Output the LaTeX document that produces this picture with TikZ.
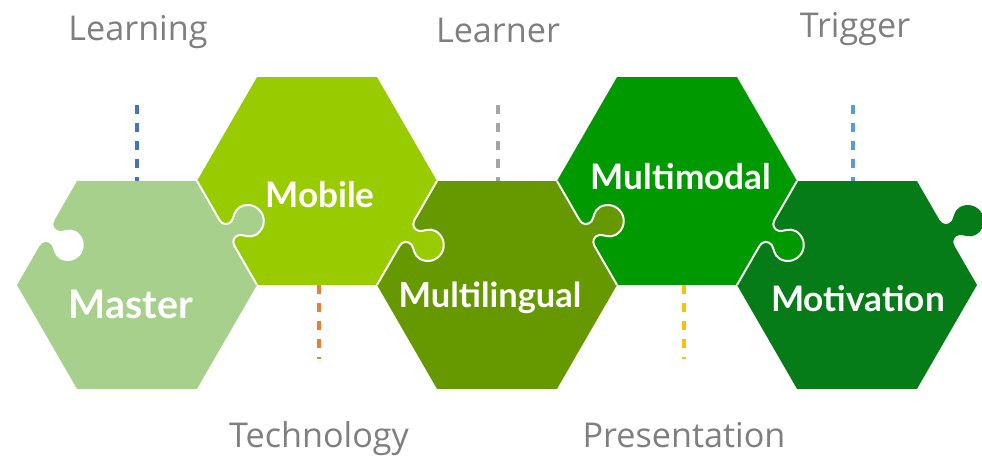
\documentclass[tikz,border=0pt]{standalone}
\usepackage{fontspec}
\setmainfont{Open Sans}
\newfontfamily\hexfont{Lato}
\usepackage{tikz}

\definecolor{masterGreen}{HTML}{A8D08D}
\definecolor{mobileGreen}{HTML}{99CC00}
\definecolor{multiGreen}{HTML}{669900}
\definecolor{modalGreen}{HTML}{009900}
\definecolor{motivGreen}{HTML}{067C18}
\definecolor{labelGray}{HTML}{7F7F7F}
\definecolor{dashBlue}{HTML}{4472C4}
\definecolor{dashOrange}{HTML}{ED7D31}
\definecolor{dashGray}{HTML}{A5A5A5}
\definecolor{dashYellow}{HTML}{FFC000}
\definecolor{dashSky}{HTML}{5B9BD5}

\tikzset{
  seam/.style={white, line width=1.4pt},
  hexlabel/.style={text=white, font=\hexfont\bfseries\fontsize{25}{30}\selectfont, anchor=base, inner sep=0pt},
  topic/.style={text=labelGray, font=\fontsize{24.3}{29}\selectfont, anchor=base, inner sep=0pt},
  leader/.style={line width=2.3pt, dash pattern=on 6.6pt off 6.2pt},
}

% one hexagon piece: name, centre, colour
\newcommand\hexpiece[3]{%
  \coordinate (#1) at #2;
  \fill[#3] (#1) +(0:120) -- +(60:120) -- +(120:120) -- +(180:120)
    -- +(240:120) -- +(300:120) -- cycle;
}
% the round tab of a piece, in edge coordinates
\newcommand\knobcurve{.. controls (-9,0) and (-6,5) .. (-8,10)
  .. controls (-10,14) and (-16,17) .. (-16,24)
  .. controls (-16,32.8) and (-8.8,40) .. (0,40)
  .. controls (8.8,40) and (16,32.8) .. (16,24)
  .. controls (16,17) and (10,14) .. (8,10)
  .. controls (6,5) and (9,0) .. (15,0)}
% [seam style] edge midpoint, angle, colour
\newcommand\knob[4][seam]{%
  \begin{scope}[shift={#2}, rotate=#3]
    \fill[#4] (-15,-3) -- (-15,0) \knobcurve -- (15,-3) -- cycle;
    \draw[#1] (-60,0) -- (-15,0) \knobcurve -- (60,0);
  \end{scope}}

\begin{document}
\begin{tikzpicture}[x=0.025cm, y=-0.025cm]
\useasboundingbox (0,0) rectangle (982,457);

% pieces
\hexpiece{master}{(137,285)}{masterGreen}
\hexpiece{mobile}{(317,181)}{mobileGreen}
\hexpiece{multilingual}{(497,285)}{multiGreen}
\hexpiece{multimodal}{(677,181)}{modalGreen}
\hexpiece{motivation}{(857,285)}{motivGreen}

% tabs and slots
\knob[draw=none]{(47,233)}{60}{white}
\knob{(227,233)}{120}{masterGreen}
\knob{(407,233)}{60}{mobileGreen}
\knob{(587,233)}{120}{multiGreen}
\knob{(767,233)}{60}{modalGreen}
\knob[draw=none]{(947,233)}{120}{motivGreen}

\node[hexlabel, font=\hexfont\bfseries\fontsize{28}{33}\selectfont] (master-txt) at (131,319) {Master};
\node[hexlabel] (mobile-txt) at (320,208) {Mobile};
\node[hexlabel, font=\hexfont\bfseries\fontsize{24.5}{29}\selectfont] (multilingual-txt) at (490,308) {Multilingual};
\node[hexlabel] (multimodal-txt) at (681,190) {Multimodal};
\node[hexlabel] (motivation-txt) at (858,312) {Motivation};

% keywords
\node[topic] (learning) at (138,41) {Learning};
\node[topic] (technology) at (319,448) {Technology};
\node[topic] (learner) at (498,43) {Learner};
\node[topic] (presentation) at (684,448) {Presentation};
\node[topic] (trigger) at (855,38) {Trigger};

\coordinate (learning-tip) at (137,105);
\coordinate (master-top) at (137,181);
\coordinate (mobile-bot) at (319,285);
\coordinate (technology-tip) at (319,359);
\coordinate (learner-tip) at (498,105);
\coordinate (multilingual-top) at (498,181);
\coordinate (multimodal-bot) at (684,285);
\coordinate (presentation-tip) at (684,359);
\coordinate (trigger-tip) at (853,105);
\coordinate (motivation-top) at (853,181);

\draw[leader, dashBlue] (learning-tip) -- (master-top);
\draw[leader, dashOrange] (mobile-bot) -- (technology-tip);
\draw[leader, dashGray] (learner-tip) -- (multilingual-top);
\draw[leader, dashYellow] (multimodal-bot) -- (presentation-tip);
\draw[leader, dashSky] (trigger-tip) -- (motivation-top);
\end{tikzpicture}
\end{document}
